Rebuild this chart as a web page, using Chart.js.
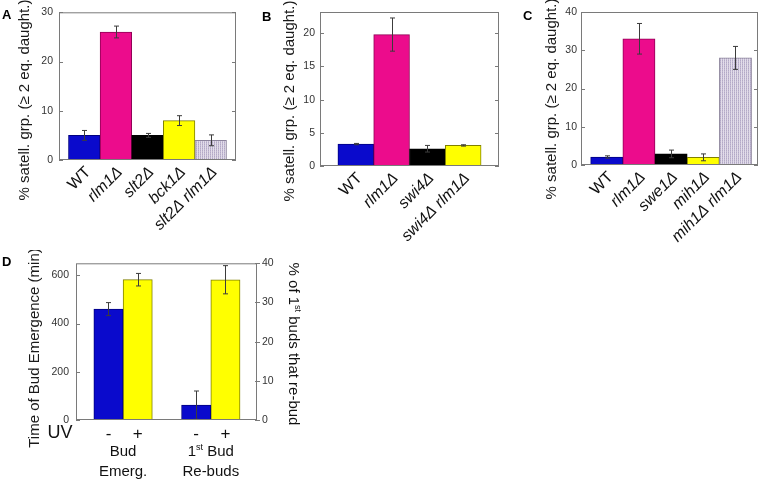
<!DOCTYPE html>
<html>
<head>
<meta charset="utf-8">
<script src="https://cdn.jsdelivr.net/npm/chart.js@4.4.1/dist/chart.umd.min.js"></script>
<style>
  html, body { margin: 0; padding: 0; background: #fff; }
  body { position: relative; width: 762px; height: 481px; overflow: hidden; }
  canvas { position: absolute; }
</style>
</head>
<body>
<canvas id="chartA" width="250" height="250" style="left:0;top:0"></canvas>
<canvas id="chartB" width="250" height="250" style="left:250px;top:0"></canvas>
<canvas id="chartC" width="262" height="250" style="left:500px;top:0"></canvas>
<canvas id="chartD" width="380" height="231" style="left:0;top:250px"></canvas>
<script>
// panel A
const catsA = ['WT', 'rlm1Δ', 'slt2Δ', 'bck1Δ', 'slt2Δ rlm1Δ'];
const valsA = [5, 26, 5, 8, 4];
const errsA = [1, 1.2, 0.4, 1, 1.1];
const ticksA = [0, 10, 20, 30];

// panel B
const catsB = ['WT', 'rlm1Δ', 'swi4Δ', 'swi4Δ rlm1Δ'];
const valsB = [3.3, 19.8, 2.6, 3.1];
const errsB = [0.1, 2.5, 0.5, 0.1];
const ticksB = [0, 5, 10, 15, 20];

// panel C
const catsC = ['WT', 'rlm1Δ', 'swe1Δ', 'mih1Δ', 'mih1Δ rlm1Δ'];
const valsC = [2.1, 33, 2.9, 2.0, 28];
const errsC = [0.3, 4, 1, 0.9, 3];
const ticksC = [0, 10, 20, 30, 40];

// panel D
const uvLabels = ['-', '+'];
const groupLabels = [['Bud', 'Emerg.'], ['1st Bud', 'Re-buds']];
const budTime = [460, 582];
const budTimeErr = [27, 26];
const rebudPct = [3.8, 35.8];
const rebudPctErr = [3.6, 3.6];
const ticksDLeft = [0, 200, 400, 600];
const ticksDRight = [0, 10, 20, 30, 40];

const FONT = '"Liberation Sans", Arial, sans-serif';
Chart.defaults.font.family = FONT;
Chart.defaults.color = '#222';

const BLUE = '#0a0acc', MAGENTA = '#ec0c8c', BLACK = '#000000', YELLOW = '#ffff00';

function hatchPattern() {
    const c = document.createElement('canvas');
    c.width = 2; c.height = 2;
    const g = c.getContext('2d');
    g.fillStyle = '#b3a9c6'; g.fillRect(0, 0, 1, 1);
    g.fillStyle = '#c2b9d3'; g.fillRect(0, 1, 1, 1);
    g.fillStyle = '#e2dde9'; g.fillRect(1, 0, 1, 2);
    return g.createPattern(c, 'repeat');
}
const HATCH = hatchPattern();

const fillsA = [BLUE, MAGENTA, BLACK, YELLOW, HATCH];
const edgesA = ['#000080', '#900055', '#000', '#808000', '#8c849c'];
const fillsB = [BLUE, MAGENTA, BLACK, YELLOW];
const edgesB = ['#000080', '#900055', '#000', '#808000'];
const uvFills = [BLUE, YELLOW];
const uvEdges = ['#000080', '#808000'];

// error bars, plot frame, inward tick marks, panel letter, y title
const panelDecor = {
    id: 'panelDecor',
    afterDatasetsDraw(chart) {
        const ctx = chart.ctx, a = chart.chartArea;
        ctx.save();
        ctx.lineWidth = 1;
        chart.data.datasets.forEach((ds, di) => {
            const meta = chart.getDatasetMeta(di);
            const ys = chart.scales[meta.yAxisID];
            meta.data.forEach((bar, i) => {
                const v = ds.data[i].y, e = ds.errors[i];
                const top = ys.getPixelForValue(v + e);
                const bot = ys.getPixelForValue(Math.max(0, v - e));
                const x = Math.round(bar.x) + 0.5;
                ctx.strokeStyle = '#3c3c3c';
                ctx.beginPath();
                ctx.moveTo(x, top); ctx.lineTo(x, bot);
                ctx.moveTo(x - 2.5, top); ctx.lineTo(x + 2.5, top);
                ctx.moveTo(x - 2.5, bot); ctx.lineTo(x + 2.5, bot);
                ctx.stroke();
            });
        });
        ctx.strokeStyle = '#7a7a7a';
        ctx.strokeRect(a.left + 0.5, a.top + 0.5, a.width - 1, a.height - 1);
        const twin = !!chart.scales.y2;
        Object.values(chart.scales).forEach(s => {
            if (s.axis !== 'y') return;
            s.ticks.forEach(t => {
                const y = Math.round(s.getPixelForValue(t.value)) + 0.5;
                ctx.beginPath();
                if (s.position === 'left') {
                    ctx.moveTo(a.left, y); ctx.lineTo(a.left + 4, y);
                    if (!twin) { ctx.moveTo(a.right - 4, y); ctx.lineTo(a.right, y); }
                } else {
                    ctx.moveTo(a.right - 2, y); ctx.lineTo(a.right + 3, y);
                }
                ctx.stroke();
            });
        });
        ctx.restore();
    },
    afterDraw(chart, args, o) {
        const ctx = chart.ctx;
        ctx.save();
        ctx.fillStyle = '#000';
        ctx.font = 'bold 13px ' + FONT;
        ctx.textBaseline = 'top';
        ctx.fillText(o.letter, o.lx, o.ly);
        ctx.translate(o.tx, o.ty);
        ctx.rotate(-Math.PI / 2);
        ctx.font = '15px ' + FONT;
        ctx.textAlign = 'center';
        ctx.textBaseline = 'middle';
        ctx.fillStyle = '#1a1a1a';
        ctx.fillText(o.title, 0, 0);
        ctx.restore();
    }
};

function satelliteChart(id, cats, vals, errs, ticks, ymax, xmin, xmax, fills, edges, box, decor) {
    return new Chart(document.getElementById(id), {
        type: 'bar',
        data: {
            datasets: [{
                data: vals.map((v, i) => ({ x: i, y: v })),
                errors: errs,
                backgroundColor: fills,
                borderColor: edges,
                borderWidth: 1,
                barPercentage: 1,
                categoryPercentage: 1
            }]
        },
        options: {
            responsive: false,
            animation: false,
            layout: { padding: { left: 0, top: box.top, right: box.right, bottom: 0 } },
            plugins: { legend: { display: false }, tooltip: { enabled: false }, panelDecor: decor },
            scales: {
                x: {
                    type: 'linear', min: xmin, max: xmax, offset: false,
                    grid: { display: false, drawTicks: false }, border: { display: false },
                    afterBuildTicks: s => { s.ticks = cats.map((c, i) => ({ value: i })); },
                    afterFit: s => { s.height = box.xh; },
                    ticks: {
                        autoSkip: false, minRotation: 45, maxRotation: 45, padding: 3, labelOffset: 4,
                        color: '#111',
                        callback: v => cats[v],
                        font: c => ({ family: FONT, size: 16, style: c.index === 0 ? 'normal' : 'italic' })
                    }
                },
                y: {
                    min: 0, max: ymax,
                    grid: { display: false, drawTicks: false }, border: { display: false },
                    afterBuildTicks: s => { s.ticks = ticks.map(v => ({ value: v })); },
                    afterFit: s => { s.width = box.yw; },
                    ticks: { padding: box.tp, font: { size: 10.5 }, color: '#333' }
                }
            }
        },
        plugins: [panelDecor]
    });
}

satelliteChart('chartA', catsA, valsA, errsA, ticksA, 30, -0.8, 4.8, fillsA, edgesA,
    { top: 10, right: 14, xh: 90, yw: 59, tp: 6 },
    { letter: 'A', lx: 2, ly: 9, title: '% satell. grp. (≥ 2 eq. daught.)', tx: 25, ty: 100 });

satelliteChart('chartB', catsB, valsB, errsB, ticksB, 23.2, -1, 4, fillsB, edgesB,
    { top: 12, right: 1, xh: 84, yw: 70, tp: 5 },
    { letter: 'B', lx: 12, ly: 11, title: '% satell. grp. (≥ 2 eq. daught.)', tx: 40, ty: 101 });

satelliteChart('chartC', catsC, valsC, errsC, ticksC, 40, -0.8, 4.7, fillsA, edgesA,
    { top: 12, right: 4, xh: 85, yw: 81, tp: 4 },
    { letter: 'C', lx: 23, ly: 10, title: '% satell. grp. (≥ 2 eq. daught.)', tx: 52, ty: 99 });

// panel D: bars placed by group (g) and UV state (u)
const seriesD = [
    { vals: budTime, errs: budTimeErr, axis: 'y' },
    { vals: rebudPct, errs: rebudPctErr, axis: 'y2' }
];
const datasetsD = [];
seriesD.forEach((s, g) => s.vals.forEach((v, u) => datasetsD.push({
    label: groupLabels[g].join(' ') + ' UV' + uvLabels[u],
    data: [{ x: g * 3 + u, y: v }],
    errors: [s.errs[u]],
    yAxisID: s.axis,
    stack: 'uv',
    backgroundColor: uvFills[u],
    borderColor: uvEdges[u],
    borderWidth: 1,
    barPercentage: 1,
    categoryPercentage: 1
})));

function drawSup(ctx, text, x, y, size, align) {
    // draws "1st ..." with the "st" raised
    const m = text.match(/^(.*?\d)(st)(.*)$/);
    const parts = m ? [[m[1], size, 0], [m[2], size * 0.6, -size * 0.33], [m[3], size, 0]] : [[text, size, 0]];
    let w = 0;
    parts.forEach(p => { ctx.font = p[1] + 'px ' + FONT; w += ctx.measureText(p[0]).width; });
    let cx = align === 'center' ? x - w / 2 : x;
    ctx.textAlign = 'left';
    parts.forEach(p => {
        ctx.font = p[1] + 'px ' + FONT;
        ctx.fillText(p[0], cx, y + p[2]);
        cx += ctx.measureText(p[0]).width;
    });
}

const budExtras = {
    id: 'budExtras',
    afterDraw(chart) {
        const ctx = chart.ctx, xs = chart.scales.x;
        ctx.save();
        ctx.fillStyle = '#111';
        ctx.textBaseline = 'middle';
        ctx.textAlign = 'center';
        ctx.font = '18px ' + FONT;
        ctx.fillText('UV', 60, 183);
        groupLabels.forEach((lines, g) => {
            const cx = xs.getPixelForValue(g * 3 + 0.5);
            lines.forEach((line, k) => drawSup(ctx, line, cx, 202 + k * 20, 15, 'center'));
        });
        ctx.translate(293, 94);
        ctx.rotate(Math.PI / 2);
        drawSup(ctx, '% of 1st buds that re-bud', 0, 0, 15, 'center');
        ctx.restore();
    }
};

new Chart(document.getElementById('chartD'), {
    type: 'bar',
    data: { datasets: datasetsD },
    options: {
        responsive: false,
        animation: false,
        layout: { padding: { left: 0, top: 13, right: 0, bottom: 0 } },
        plugins: {
            legend: { display: false }, tooltip: { enabled: false },
            panelDecor: { letter: 'D', lx: 2, ly: 6, title: 'Time of Bud Emergence (min)', tx: 35, ty: 98 }
        },
        scales: {
            x: {
                type: 'linear', min: -1.11, max: 5.08, offset: false,
                grid: { display: false, drawTicks: false }, border: { display: false },
                afterBuildTicks: s => { s.ticks = [0, 1, 3, 4].map(v => ({ value: v })); },
                afterFit: s => { s.height = 61; },
                ticks: {
                    autoSkip: false, maxRotation: 0, padding: 4, color: '#111',
                    font: { size: 17 },
                    callback: v => uvLabels[v % 3]
                }
            },
            y: {
                position: 'left', min: 0, max: 650, stacked: false,
                grid: { display: false, drawTicks: false }, border: { display: false },
                afterBuildTicks: s => { s.ticks = ticksDLeft.map(v => ({ value: v })); },
                afterFit: s => { s.width = 76; },
                ticks: { padding: 7, font: { size: 10.5 }, color: '#333' }
            },
            y2: {
                position: 'right', min: 0, max: 40, stacked: false,
                grid: { display: false, drawTicks: false }, border: { display: false },
                afterBuildTicks: s => { s.ticks = ticksDRight.map(v => ({ value: v })); },
                afterFit: s => { s.width = 123; },
                ticks: { padding: 5, font: { size: 10.5 }, color: '#333' }
            }
        }
    },
    plugins: [panelDecor, budExtras]
});
</script>
</body>
</html>
